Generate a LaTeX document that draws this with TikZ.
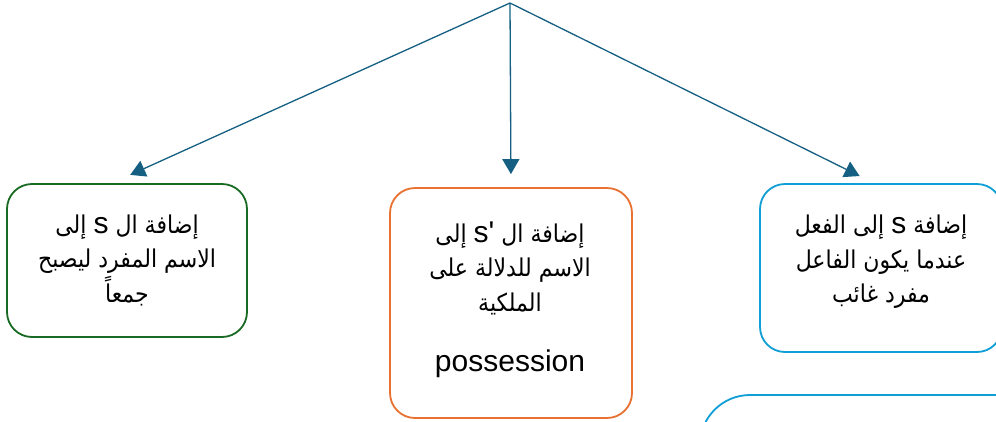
\documentclass[tikz,border=0pt]{standalone}
\usepackage{fontspec}
\setmainfont{Liberation Sans}
\newfontfamily\latfont[Ligatures=TeXOff]{Liberation Sans}
\newfontfamily\arfont[Script=Arabic,FakeStretch=0.9]{DejaVu Sans}
\TeXXeTstate=1
\usetikzlibrary{arrows.meta}
\definecolor{connc}{HTML}{156082}
\definecolor{cgreen}{HTML}{196B24}
\definecolor{corange}{HTML}{E97132}
\definecolor{cblue}{HTML}{0F9ED5}
\newcommand{\lat}[1]{{\latfont\fontsize{30}{34.5}\selectfont #1}}
\begin{document}
\begin{tikzpicture}[x=1pt,y=-1pt,
  box/.style={draw, rounded corners=25pt, line width=1.8pt, inner sep=0pt},
  conn/.style={draw=connc, line width=1.3pt, -{Triangle[length=15pt,width=17pt]}},
  txt/.style={align=center, text=black, inner sep=0pt, font=\arfont\fontsize{24.5}{34.5}\selectfont}]
\useasboundingbox (0,0) rectangle (996,421);
\clip (0,0) rectangle (996,421);
\fill[white] (0,0) rectangle (996,421);
% boxes
\node[box, draw=cgreen, minimum width=240pt, minimum height=153pt] (b1) at (127,260.5) {};
\node[box, draw=corange, minimum width=242pt, minimum height=230pt] (b2) at (511,303) {};
\node[box, draw=cblue, minimum width=242pt, minimum height=168pt] (b3) at (881,268) {};
\node[box, draw=cblue, rounded corners=50pt, minimum width=400pt, minimum height=305pt] (b4) at (900,547.5) {};
% texts
\node[txt] (t1) at (127,260) {\beginR إضافة ال \lat{s} إلى\endR\\\beginR الاسم المفرد ليصبح\endR\\\beginR جمعاً\endR};
\node[txt] (t2) at (510,300) {\beginR إضافة ال \beginL\lat{s}\kern0pt\lat{'}\endL\ إلى\endR\\\beginR الاسم للدلالة على\endR\\\beginR الملكية\endR\\[26pt]\lat{possession}};
\node[txt] (t3) at (881,262) {\beginR إضافة \lat{s} إلى الفعل\endR\\\beginR عندما يكون الفاعل\endR\\\beginR مفرد غائب\endR};
% connectors
\coordinate (top) at (510,3);
\draw[conn, shorten >=20pt] (top) -- ([xshift=-15pt]b1.north);
\draw[conn, shorten >=13pt] (top) -- (b2.north);
\draw[conn, shorten >=16pt] (top) -- ([xshift=-7pt]b3.north);
\end{tikzpicture}
\end{document}
